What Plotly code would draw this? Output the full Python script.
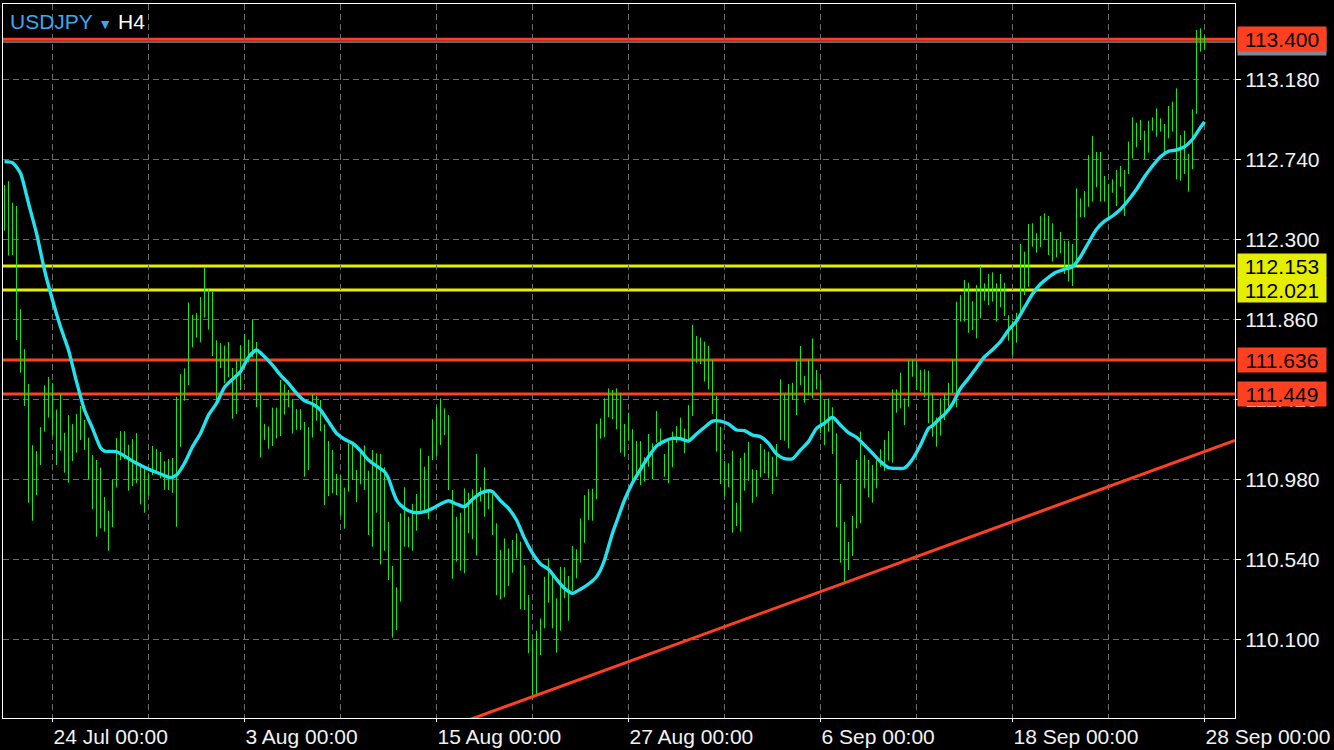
import plotly.graph_objects as go

# ---------------- data ----------------
symbol = "USDJPY"
timeframe = "H4"

bar_high = [
    112.599, 112.620, 112.501, 112.483, 111.916, 111.696, 111.504, 111.168, 111.135, 111.267,
    111.497, 111.542, 111.509, 111.363, 111.451, 111.236, 111.333, 111.284, 111.339, 111.383,
    111.306, 111.209, 111.113, 111.086, 111.044, 110.882, 110.807, 110.980, 111.207, 111.245,
    111.245, 111.170, 111.201, 111.234, 111.068, 111.049, 111.016, 111.163, 111.146, 111.130,
    111.080, 111.091, 111.097, 111.434, 111.559, 111.590, 111.953, 111.885, 111.894, 111.982,
    112.147, 112.025, 112.010, 111.744, 111.729, 111.715, 111.735, 111.592, 111.636, 111.718,
    111.779, 111.748, 111.860, 111.735, 111.451, 111.284, 111.271, 111.374, 111.374, 111.526,
    111.502, 111.471, 111.421, 111.366, 111.366, 111.295, 111.267, 111.449, 111.438, 111.416,
    111.282, 111.190, 111.141, 111.009, 111.002, 110.934, 111.178, 111.168, 111.031, 111.145,
    111.167, 111.027, 111.141, 111.123, 111.119, 111.046, 110.745, 110.503, 110.386, 110.793,
    110.936, 110.774, 110.844, 110.899, 111.150, 111.049, 111.108, 111.310, 111.379, 111.425,
    111.370, 111.333, 110.921, 110.774, 110.796, 110.930, 110.906, 110.925, 111.119, 110.936,
    111.046, 110.921, 110.899, 110.738, 110.591, 110.655, 110.600, 110.646, 110.683, 110.637,
    110.508, 110.343, 110.096, 110.147, 110.215, 110.444, 110.545, 110.463, 110.325, 110.499,
    110.496, 110.448, 110.613, 110.595, 110.765, 110.893, 110.925, 110.928, 111.284, 111.315,
    111.425, 111.480, 111.471, 111.480, 111.453, 111.284, 111.346, 111.256, 111.190, 111.190,
    111.101, 111.229, 111.178, 111.355, 111.260, 111.119, 111.205, 111.242, 111.273, 111.319,
    111.258, 111.388, 111.829, 111.768, 111.759, 111.737, 111.713, 111.636, 111.438, 111.269,
    111.082, 111.068, 111.137, 110.851, 111.097, 111.126, 111.185, 111.035, 111.031, 111.174,
    111.145, 111.132, 111.104, 111.174, 111.530, 111.449, 111.504, 111.511, 111.636, 111.713,
    111.548, 111.636, 111.755, 111.581, 111.530, 111.420, 111.425, 111.376, 111.233, 110.954,
    110.745, 110.635, 110.778, 111.086, 111.242, 111.113, 111.086, 111.058, 111.086, 111.145,
    111.196, 111.245, 111.475, 111.475, 111.566, 111.425, 111.636, 111.636, 111.632, 111.581,
    111.585, 111.577, 111.449, 111.320, 111.425, 111.449, 111.511, 111.640, 111.957, 111.993,
    112.076, 112.061, 111.960, 112.048, 112.153, 112.058, 112.109, 112.118, 112.058, 112.109,
    112.061, 111.883, 111.852, 111.896, 112.274, 112.232, 112.384, 112.388, 112.333, 112.428,
    112.443, 112.428, 112.388, 112.296, 112.340, 112.292, 112.292, 112.274, 112.580, 112.525,
    112.565, 112.763, 112.868, 112.780, 112.780, 112.648, 112.604, 112.630, 112.681, 112.703,
    112.681, 112.837, 112.971, 112.941, 112.956, 112.897, 112.952, 112.971, 113.020, 112.965,
    112.934, 113.033, 113.057, 113.130, 112.873, 112.897, 112.769, 113.015, 113.451, 113.460,
    113.420,
]

bar_low = [
    112.347, 112.210, 112.213, 111.746, 111.566, 111.383, 110.851, 110.752, 110.893, 111.058,
    111.242, 111.319, 111.223, 111.058, 111.137, 111.016, 110.961, 111.080, 111.126, 111.196,
    111.141, 110.980, 110.815, 110.664, 110.710, 110.692, 110.587, 110.716, 110.934, 111.086,
    111.091, 110.917, 110.943, 110.958, 110.842, 110.796, 110.893, 111.003, 111.027, 110.985,
    110.921, 110.921, 110.906, 110.719, 111.159, 111.412, 111.498, 111.706, 111.759, 111.733,
    111.869, 111.803, 111.658, 111.412, 111.592, 111.508, 111.541, 111.313, 111.339, 111.471,
    111.596, 111.623, 111.651, 111.376, 111.100, 111.196, 111.148, 111.163, 111.205, 111.218,
    111.337, 111.376, 111.231, 111.253, 111.251, 110.994, 111.031, 111.209, 111.302, 111.245,
    110.838, 110.888, 110.903, 110.893, 110.782, 110.708, 110.912, 110.976, 110.855, 110.952,
    110.921, 110.673, 110.609, 110.796, 110.512, 110.587, 110.426, 110.109, 110.151, 110.307,
    110.609, 110.606, 110.587, 110.697, 110.807, 110.793, 110.760, 111.086, 111.108, 111.168,
    111.223, 110.921, 110.433, 110.527, 110.477, 110.463, 110.683, 110.650, 110.560, 110.857,
    110.774, 110.815, 110.673, 110.343, 110.319, 110.331, 110.393, 110.466, 110.545, 110.265,
    110.261, 110.023, 109.784, 109.793, 110.013, 110.160, 110.301, 110.160, 110.026, 110.147,
    110.325, 110.202, 110.367, 110.435, 110.521, 110.631, 110.756, 110.752, 110.870, 111.203,
    111.211, 111.321, 111.310, 111.255, 111.126, 111.104, 111.192, 110.948, 110.985, 110.948,
    110.967, 111.049, 110.980, 111.181, 111.163, 110.994, 110.958, 111.046, 111.181, 111.196,
    111.123, 111.196, 111.328, 111.621, 111.614, 111.517, 111.475, 111.339, 111.132, 110.954,
    110.884, 110.936, 110.686, 110.723, 110.692, 110.917, 110.972, 110.851, 110.884, 110.991,
    111.013, 110.985, 110.899, 110.994, 111.196, 111.192, 111.150, 111.416, 111.333, 111.498,
    111.401, 111.443, 111.425, 111.475, 111.233, 111.168, 111.242, 111.119, 110.716, 110.521,
    110.408, 110.481, 110.558, 110.710, 110.738, 110.930, 110.881, 110.851, 110.930, 111.049,
    111.027, 111.082, 111.071, 111.346, 111.370, 111.278, 111.379, 111.544, 111.471, 111.462,
    111.431, 111.288, 111.214, 111.160, 111.220, 111.306, 111.379, 111.453, 111.375, 111.847,
    111.847, 111.786, 111.801, 111.755, 111.865, 111.962, 111.938, 111.957, 111.847, 111.926,
    111.878, 111.742, 111.663, 111.731, 111.874, 111.993, 112.039, 112.259, 112.226, 112.256,
    112.296, 112.213, 112.177, 112.201, 112.223, 112.109, 112.067, 112.043, 112.158, 112.421,
    112.421, 112.479, 112.507, 112.586, 112.507, 112.507, 112.428, 112.556, 112.483, 112.589,
    112.428, 112.659, 112.745, 112.806, 112.846, 112.740, 112.776, 112.897, 112.864, 112.892,
    112.769, 112.855, 112.892, 112.630, 112.622, 112.659, 112.562, 112.685, 112.989, 113.332,
    113.345,
]

# moving average, sampled at bar indices
ma_bar = [0, 2, 4, 6, 8, 10, 12, 14, 16, 18, 20, 22, 24, 25, 28, 30, 33, 36, 39, 41,
          42, 43, 45, 47, 49, 51, 53, 55, 57, 59, 61, 63, 65, 67, 69, 71, 73, 75, 77, 79,
          81, 83, 85, 87, 89, 91, 93, 95, 96, 97, 98, 99, 101, 103, 105, 107, 109, 111, 113, 115,
          117, 119, 121, 122, 124, 126, 128, 130, 132, 134, 136, 138, 140, 142, 144, 146, 148, 149, 150, 151,
          152, 153, 155, 157, 159, 161, 163, 165, 167, 169, 171, 173, 175, 177, 179, 181, 183, 185, 187, 189,
          191, 193, 195, 197, 199, 201, 203, 205, 207, 209, 211, 213, 215, 217, 219, 221, 223, 225, 227, 229,
          231, 232, 234, 235, 237, 239, 241, 243, 245, 247, 249, 251, 253, 255, 257, 259, 261, 263, 265, 267,
          269, 271, 273, 275, 277, 279, 281, 283, 285, 287, 289, 291, 293, 295, 297, 299, 300]
ma_val = [112.727, 112.721, 112.663, 112.498, 112.333, 112.131, 111.966, 111.819, 111.691, 111.517,
          111.361, 111.260, 111.154, 111.135, 111.132, 111.108, 111.068, 111.036, 111.009, 110.991,
          110.991, 111.003, 111.068, 111.159, 111.232, 111.333, 111.398, 111.486, 111.530, 111.572,
          111.651, 111.691, 111.654, 111.608, 111.553, 111.508, 111.453, 111.412, 111.394, 111.361,
          111.297, 111.233, 111.200, 111.178, 111.137, 111.086, 111.053, 111.022, 110.985, 110.921,
          110.866, 110.838, 110.807, 110.796, 110.802, 110.820, 110.844, 110.862, 110.844, 110.829,
          110.870, 110.903, 110.917, 110.912, 110.862, 110.820, 110.756, 110.655, 110.573, 110.514,
          110.485, 110.430, 110.380, 110.353, 110.375, 110.404, 110.444, 110.481, 110.536, 110.609,
          110.683, 110.745, 110.866, 110.961, 111.035, 111.104, 111.163, 111.190, 111.205, 111.203,
          111.190, 111.229, 111.266, 111.300, 111.300, 111.284, 111.251, 111.247, 111.223, 111.214,
          111.178, 111.119, 111.093, 111.093, 111.141, 111.187, 111.260, 111.288, 111.321, 111.278,
          111.236, 111.211, 111.168, 111.123, 111.077, 111.044, 111.040, 111.042, 111.090, 111.168,
          111.260, 111.275, 111.318, 111.337, 111.394, 111.480, 111.535, 111.594, 111.654, 111.693,
          111.737, 111.801, 111.850, 111.925, 111.999, 112.054, 112.091, 112.120, 112.135, 112.149,
          112.204, 112.281, 112.355, 112.400, 112.428, 112.465, 112.516, 112.575, 112.644, 112.703,
          112.754, 112.784, 112.791, 112.809, 112.850, 112.916, 112.947]

# horizontal levels
red_levels = [113.400, 111.636, 111.449]
yellow_levels = [112.153, 112.021]
bid_level = 113.385

# trend line anchors (bar index, price)
trend_bar = [132, 210]
trend_price = [109.784, 110.410]

# axes
price_ticks = [113.180, 112.740, 112.300, 111.860, 111.420, 110.980, 110.540, 110.100]
time_tick_bars = [12, 60, 108, 156, 204, 252, 300]
time_tick_labels = ["24 Jul 00:00", "3 Aug 00:00", "15 Aug 00:00", "27 Aug 00:00",
                    "6 Sep 00:00", "18 Sep 00:00", "28 Sep 00:00"]

# ---------------- styling ----------------
BG = "#000000"
GREEN = "#17e617"
CYAN = "#1fe3ee"
RED = "#ff4020"
YELLOW = "#e6ee00"
GRID = "#6a6a6a"
TXT = "#f2f2f2"
FONT = "Liberation Sans, Arial, sans-serif"

X_RANGE = [-0.375, 307.625]
Y_RANGE = [109.667, 113.594]

fig = go.Figure()

# OHLC bars drawn as high-low segments
seg_x, seg_y = [], []
for i, (h, l) in enumerate(zip(bar_high, bar_low)):
    seg_x += [i, i, None]
    seg_y += [l, h, None]
fig.add_trace(go.Scatter(x=seg_x, y=seg_y, mode="lines",
                         line=dict(color=GREEN, width=1), hoverinfo="skip",
                         showlegend=False))

# moving average
fig.add_trace(go.Scatter(x=ma_bar, y=ma_val, mode="lines",
                         line=dict(color=CYAN, width=3.4, shape="spline", smoothing=0.6),
                         hoverinfo="skip", showlegend=False))

# trend line (extended across the visible range)
slope = (trend_price[1] - trend_price[0]) / (trend_bar[1] - trend_bar[0])
tx = [X_RANGE[0], X_RANGE[1]]
ty = [trend_price[0] + slope * (x - trend_bar[0]) for x in tx]
fig.add_trace(go.Scatter(x=tx, y=ty, mode="lines", line=dict(color=RED, width=3),
                         hoverinfo="skip", showlegend=False))

shapes = []
shapes.append(dict(type="line", xref="paper", x0=0, x1=1, yref="y", y0=bid_level, y1=bid_level,
                   line=dict(color="#7d8894", width=1.5), layer="below"))
for lv in red_levels:
    shapes.append(dict(type="line", xref="paper", x0=0, x1=1, yref="y", y0=lv, y1=lv,
                       line=dict(color=RED, width=3), layer="below"))
for lv in yellow_levels:
    shapes.append(dict(type="line", xref="paper", x0=0, x1=1, yref="y", y0=lv, y1=lv,
                       line=dict(color=YELLOW, width=3), layer="below"))

annotations = []
# price labels on the right
def price_label(val, bg, text=None, yshift=0):
    return dict(xref="paper", x=1, xanchor="left", xshift=2, yref="y", y=val, yanchor="middle",
                yshift=yshift, text=text if text is not None else f"{val:.3f}", showarrow=False,
                bgcolor=bg, width=85, height=21, borderpad=1.5, align="center",
                font=dict(family=FONT, size=21, color="#000000"))

annotations.append(price_label(bid_level, "#7d8894", text=" ", yshift=-1))
for lv in red_levels:
    annotations.append(price_label(lv, RED))
for lv in yellow_levels:
    annotations.append(price_label(lv, YELLOW))

# symbol title
annotations.append(dict(xref="paper", yref="paper", x=0, y=1, xanchor="left", yanchor="top",
                        xshift=5, yshift=-4, showarrow=False,
                        text=(f"<span style='color:#3aa8f2'>{symbol}</span>"
                              f" <span style='color:#3aa8f2;font-size:14px'>▼</span>"
                              f" <span style='color:#ffffff'>{timeframe}</span>"),
                        font=dict(family=FONT, size=21, color="#ffffff")))

fig.update_layout(
    width=1334, height=750,
    paper_bgcolor=BG, plot_bgcolor=BG,
    margin=dict(l=3, r=99, t=4, b=32),
    showlegend=False, hovermode=False,
    shapes=shapes, annotations=annotations,
    font=dict(family=FONT, size=19, color=TXT),
)

fig.update_xaxes(
    range=X_RANGE, tickmode="array", tickvals=time_tick_bars, ticktext=time_tick_labels,
    ticklabelposition="outside right", ticks="outside", ticklen=3, tickcolor="#ffffff",
    tickfont=dict(family=FONT, size=21, color=TXT),
    showgrid=True, gridcolor=GRID, griddash="6px,4px", gridwidth=1,
    minor=dict(tick0=12, dtick=24, showgrid=True, gridcolor=GRID, griddash="6px,4px",
               gridwidth=1, ticks=""),
    showline=True, linecolor="#ffffff", linewidth=1, mirror=True, zeroline=False,
    fixedrange=True,
)
fig.update_yaxes(
    range=Y_RANGE, side="right", tickmode="array", tickvals=price_ticks,
    ticktext=[f"{v:.3f}" for v in price_ticks],
    ticks="outside", ticklen=5, tickcolor="#ffffff",
    tickfont=dict(family=FONT, size=21, color=TXT),
    showgrid=True, gridcolor=GRID, griddash="6px,4px", gridwidth=1,
    showline=True, linecolor="#ffffff", linewidth=1, mirror=True, zeroline=False,
    fixedrange=True,
)

fig.write_html("out.html", config={"displayModeBar": False},
               post_script="document.body.style.margin='0px';document.body.style.background='#000';")
